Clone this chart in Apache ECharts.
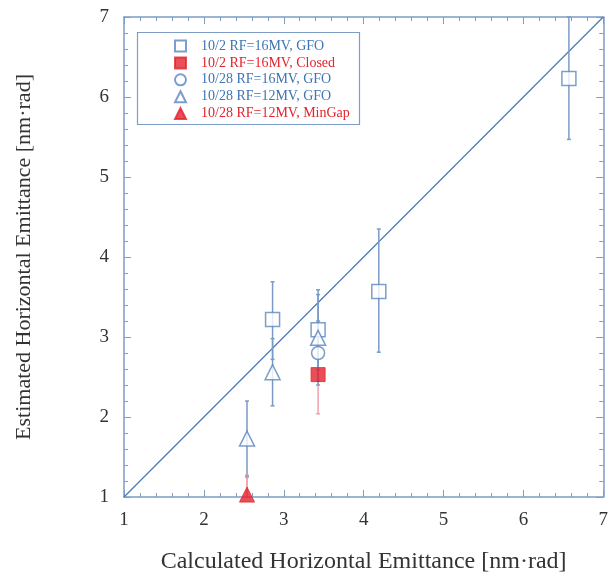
<!DOCTYPE html>
<html><head><meta charset="utf-8">
<script src="https://cdn.jsdelivr.net/npm/echarts@6/dist/echarts.min.js"></script>
<style>html,body{margin:0;padding:0;background:#fff}#c{width:611px;height:579px}</style>
</head><body><div id="c"></div>
<script>
// Data: [x, y, errLow, errHigh]
const gfo102 = [[2.86, 3.22, 2.72, 3.69], [3.43, 3.09, 2.59, 3.59], [4.19, 3.57, 2.81, 4.35], [6.57, 6.23, 5.47, 7.0]];
const closed102 = [[3.43, 2.53, 2.04, 3.02]];
const gfo28_16 = [[3.43, 2.80, 2.40, 3.20]];
const gfo28_12 = [[2.86, 2.56, 2.14, 2.98], [3.43, 2.99, 2.45, 3.53], [2.54, 1.73, 1.25, 2.20]];
const minGap28_12 = [[2.54, 1.03, 0.79, 1.27]];
const diagLine = [[1, 1], [7, 7]];
const xTicks = [1, 2, 3, 4, 5, 6, 7];
const yTicks = [1, 2, 3, 4, 5, 6, 7];
const legendNames = ['10/2 RF=16MV, GFO', '10/2 RF=16MV, Closed', '10/28 RF=16MV, GFO', '10/28 RF=12MV, GFO', '10/28 RF=12MV, MinGap'];

const BLUE = '#3f74b6', RED = '#e3232d', AXIS = '#7c9dc6';
const FONT = 'Liberation Serif';

function errSeries(data, color) {
  return {
    type: 'custom', silent: true, z: 2,
    data: data,
    encode: {x: 0, y: [1, 2, 3]},
    renderItem: function (params, api) {
      const x = api.value(0);
      const lo = api.coord([x, api.value(2)]);
      const hi = api.coord([x, api.value(3)]);
      const cs = params.coordSys;
      const clip = (p) => [p[0], Math.max(cs.y, Math.min(cs.y + cs.height, p[1]))];
      const a = clip(lo), b = clip(hi);
      return {type: 'group', children: [
        {type: 'line', shape: {x1: a[0], y1: a[1], x2: b[0], y2: b[1]}, style: {stroke: color, lineWidth: 1.5}},
        {type: 'line', shape: {x1: a[0] - 2, y1: a[1], x2: a[0] + 2, y2: a[1]}, style: {stroke: color, lineWidth: 1.5}},
        {type: 'line', shape: {x1: b[0] - 2, y1: b[1], x2: b[0] + 2, y2: b[1]}, style: {stroke: color, lineWidth: 1.5}}
      ]};
    }
  };
}
function pts(arr) { return arr.map(d => [d[0], d[1]]); }

const axisCommon = {
  min: 1, max: 7, interval: 1,
  axisLine: {show: true, lineStyle: {color: AXIS, width: 1.5}},
  axisTick: {show: true, inside: true, length: 7, lineStyle: {color: AXIS}},
  minorTick: {show: true, splitNumber: 5, length: 4, lineStyle: {color: AXIS}},
  splitLine: {show: false},
};

const chart = echarts.init(document.getElementById('c'));
chart.setOption({
  animation: false,
  backgroundColor: '#fff',
  grid: {left: 124, right: 7, top: 17, bottom: 82},
  xAxis: [
    Object.assign({}, axisCommon, {type: 'value', position: 'bottom',
      name: 'Calculated Horizontal Emittance [nm·rad]', nameLocation: 'middle', nameGap: 53,
      nameTextStyle: {fontFamily: FONT, fontSize: 24, color: '#333'},
      axisLabel: {margin: 14, fontFamily: FONT, fontSize: 19, color: '#333',
        formatter: v => xTicks.includes(v) ? String(v) : ''}}),
    Object.assign({}, axisCommon, {type: 'value', position: 'top', axisLabel: {show: false}})
  ],
  yAxis: [
    Object.assign({}, axisCommon, {type: 'value', position: 'left',
      name: 'Estimated Horizontal Emittance [nm·rad]', nameLocation: 'middle', nameGap: 89,
      nameTextStyle: {fontFamily: FONT, fontSize: 22, color: '#333'},
      axisLabel: {margin: 15, fontFamily: FONT, fontSize: 19, color: '#333',
        formatter: v => yTicks.includes(v) ? String(v) : ''}}),
    Object.assign({}, axisCommon, {type: 'value', position: 'right', axisLabel: {show: false}})
  ],
  legend: {
    orient: 'vertical', left: 169, top: 34, itemGap: 2.9, itemWidth: 11, itemHeight: 11,
    data: [
      {name: legendNames[0], textStyle: {color: BLUE}},
      {name: legendNames[1], textStyle: {color: RED}},
      {name: legendNames[2], textStyle: {color: BLUE}},
      {name: legendNames[3], textStyle: {color: BLUE}},
      {name: legendNames[4], textStyle: {color: RED}}
    ],
    textStyle: {fontFamily: FONT, fontSize: 14, lineHeight: 14, padding: [0, 0, 0, 10]}
  },
  graphic: [{type: 'rect', left: 135, top: 30, shape: {width: 222, height: 92},
    style: {fill: 'none', stroke: AXIS, lineWidth: 1.2}, z: 10}],
  series: [
    {type: 'line', data: diagLine, symbol: 'none', silent: true, lineStyle: {color: '#4a78b0', width: 1.2}, z: 1},
    errSeries(gfo102, '#7a9bc6'),
    errSeries(closed102, '#f0a0a8'),
    errSeries(gfo28_16, '#7a9bc6'),
    errSeries(gfo28_12, '#7a9bc6'),
    errSeries(minGap28_12, '#f08a92'),
    {name: legendNames[0], type: 'scatter', data: pts(gfo102), symbol: 'rect', symbolSize: 14, z: 5,
      itemStyle: {color: '#fff', borderColor: '#5a86c0', borderWidth: 1.5}},
    {name: legendNames[1], type: 'scatter', data: pts(closed102), symbol: 'rect', symbolSize: 14, z: 5,
      itemStyle: {color: RED, borderColor: RED, borderWidth: 1}},
    {name: legendNames[2], type: 'scatter', data: pts(gfo28_16), symbol: 'circle', symbolSize: 13, z: 5,
      itemStyle: {color: '#fff', borderColor: '#5a86c0', borderWidth: 1.5}},
    {name: legendNames[3], type: 'scatter', data: pts(gfo28_12), symbol: 'triangle', symbolSize: 15, z: 5,
      itemStyle: {color: '#fff', borderColor: '#5a86c0', borderWidth: 1.5}},
    {name: legendNames[4], type: 'scatter', data: pts(minGap28_12), symbol: 'triangle', symbolSize: 15, z: 5,
      itemStyle: {color: RED, borderColor: RED, borderWidth: 1}}
  ]
});
</script></body></html>
